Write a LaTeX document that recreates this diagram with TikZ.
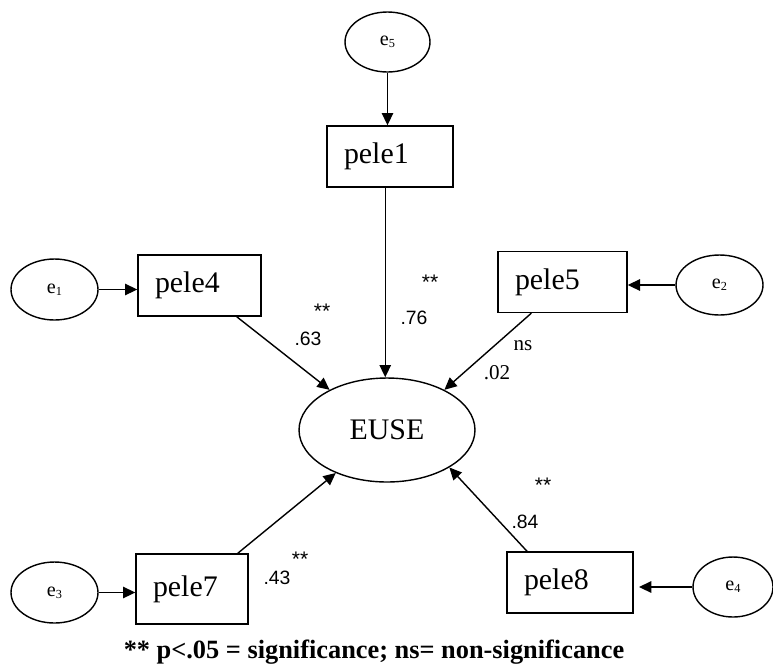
\documentclass[tikz,border=0pt]{standalone}
\usepackage{fontspec}
\setmainfont{Liberation Serif}
\newfontfamily\coeffont{Liberation Sans}
\usetikzlibrary{shapes.geometric,arrows.meta}

% error index, set small
\newcommand{\errsub}[1]{e{\fontsize{7}{8}\selectfont\raisebox{-0.3ex}{#1}}}

\tikzset{
  obs/.style={draw, rectangle, line width=0.8pt, minimum height=1.22cm,
    inner xsep=0.34cm, text width=#1, align=left,
    font=\fontsize{17}{20}\selectfont},
  lat/.style={draw, ellipse, line width=0.8pt, inner sep=0pt,
    minimum width=1.74cm, minimum height=1.22cm,
    font=\fontsize{11.5}{13}\selectfont},
  reg/.style={line width=0.8pt, -{Triangle[length=7pt,width=6.5pt]}},
  coef/.style={inner sep=0pt, font=\coeffont\fontsize{11}{13}\selectfont},
  sig/.style={inner sep=0pt, font=\coeffont\fontsize{12}{14}\selectfont},
}

\begin{document}
\begin{tikzpicture}[x=0.02cm, y=-0.02cm]
    % page frame
    \useasboundingbox (0,0) rectangle (773,670);

    % latent construct
    \node[lat, minimum width=3.52cm, minimum height=2.08cm,
          font=\fontsize{17}{20}\selectfont] (euse) at (387,430) {EUSE};

    % indicators
    \node[obs=1.84cm] (pele1) at (390,156.5) {pele1};
    \node[obs=1.78cm] (pele4) at (199.5,285.5) {pele4};
    \node[obs=1.90cm] (pele5) at (562.5,282) {pele5};
    \node[obs=1.56cm, minimum height=1.4cm] (pele7) at (192,589) {pele7};
    \node[obs=1.84cm] (pele8) at (570,582.5) {pele8};

    % error terms
    \node[lat, minimum width=1.7cm, minimum height=1.2cm] (e5) at (387.5,42) {\errsub{5}};
    \node[lat] (e1) at (54.5,289.5) {\errsub{1}};
    \node[lat, minimum height=1.2cm] (e2) at (719.5,285) {\errsub{2}};
    \node[lat] (e3) at (54.5,592.5) {\errsub{3}};
    \node[lat, minimum width=1.6cm, minimum height=1.2cm] (e4) at (733,587) {\errsub{4}};

    % error paths
    \draw[reg] (e5.south) -- (e5.south |- pele1.north);
    \draw[reg] (e1.east) -- (e1.east -| pele4.west);
    \draw[reg] (e2.west) -- (e2.west -| pele5.east);
    \draw[reg] (e3.east) -- (e3.east -| pele7.west);
    \draw[reg] (e4.west) -- ([xshift=3pt]e4.west -| pele8.east);

    % loadings on EUSE
    \draw[reg] ([xshift=-1pt]pele1.south -| euse.north) -- ([xshift=-1pt]euse.north);
    \draw[reg] (pele4.-40) -- (euse.145);
    \draw[reg] (pele5.225) -- (euse.35);
    \draw[reg] (pele7.38) -- (euse.220);
    \draw[reg] (pele8.144) -- (euse.329);

    % coefficients
    \node[coef] (c63) at (308,339) {.63};
    \node[sig] (s63) at (322,311) {**};
    \node[coef] (c76) at (414,318) {.76};
    \node[sig] (s76) at (430,282) {**};
    \node[inner sep=0pt, font=\fontsize{12}{14}\selectfont] (c02) at (497,373) {.02};
    \node[inner sep=0pt, font=\fontsize{12}{14}\selectfont] (ns02) at (523,346) {ns};
    \node[coef] (c43) at (277,578) {.43};
    \node[sig] (s43) at (300,559) {**};
    \node[coef] (c84) at (525,522) {.84};
    \node[sig] (s84) at (543,485) {**};

    % legend
    \node[font=\bfseries\fontsize{15}{18}\selectfont] (note) at (374,652)
        {** p<.05 = significance; ns= non-significance};

\end{tikzpicture}
\end{document}
